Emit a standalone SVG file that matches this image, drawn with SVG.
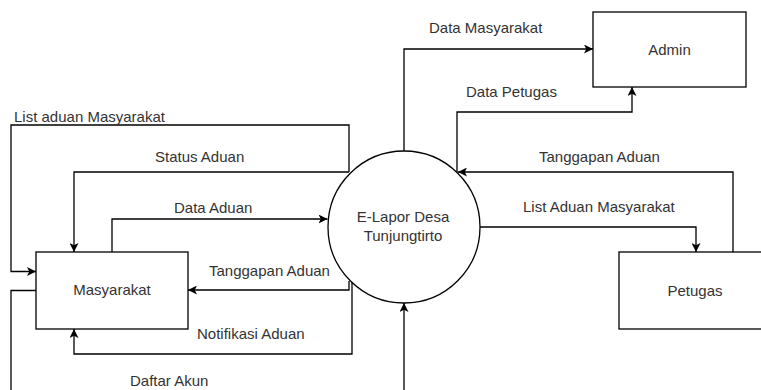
<svg xmlns="http://www.w3.org/2000/svg" width="761" height="390" viewBox="0 0 761 390">
<style>
.box{fill:#fff;stroke:#000;stroke-width:1.3}
.lbl{font-family:"Liberation Sans",Arial,sans-serif;font-size:15px;fill:#333}
.c{text-anchor:middle}
.ln{fill:none;stroke:#000;stroke-width:1.3;marker-end:url(#arr)}
</style>
<defs>
<marker id="arr" viewBox="0 0 10 10" refX="10" refY="5" markerWidth="9" markerHeight="9" markerUnits="userSpaceOnUse" orient="auto">
<path d="M0,0 L10,5 L0,10 L2.5,5 z" fill="#000"/>
</marker>
</defs>
<rect width="761" height="390" fill="#fff"/>
<g id="connectors">
<path class="ln" d="M349,172 V125 H11 V271.5 H36"/>
<path class="ln" d="M349,172 H74 V252"/>
<path class="ln" d="M112,252 V219 H327.5"/>
<path class="ln" d="M349,281 V290 H188"/>
<path class="ln" d="M352,282 V354 H74 V329"/>
<path class="ln" d="M36,290.5 H11 V400 H404 V303"/>
<path class="ln" d="M404,151 V49 H593"/>
<path class="ln" d="M457,172 V112 H632 V87"/>
<path class="ln" d="M733,252 V172 H458"/>
<path class="ln" d="M480,227 H696 V252"/>
</g>
<g id="labels">
<text class="lbl" x="14" y="122">List aduan Masyarakat</text>
<text class="lbl" x="155" y="162">Status Aduan</text>
<text class="lbl" x="174" y="213">Data Aduan</text>
<text class="lbl" x="209" y="276">Tanggapan Aduan</text>
<text class="lbl" x="197" y="339">Notifikasi Aduan</text>
<text class="lbl" x="130" y="386">Daftar Akun</text>
<text class="lbl" x="429" y="33">Data Masyarakat</text>
<text class="lbl" x="466" y="97">Data Petugas</text>
<text class="lbl" x="539" y="162">Tanggapan Aduan</text>
<text class="lbl" x="523" y="212">List Aduan Masyarakat</text>
</g>
<g id="masyarakat">
<rect class="box" x="36" y="252" width="152" height="77"/>
<text class="lbl c" x="112" y="295">Masyarakat</text>
</g>
<g id="elapor">
<circle class="box" cx="404" cy="227" r="76"/>
<text class="lbl c" x="403" y="222">E-Lapor Desa</text>
<text class="lbl c" x="403" y="241">Tunjungtirto</text>
</g>
<g id="admin">
<rect class="box" x="593" y="12" width="153" height="75"/>
<text class="lbl c" x="669.5" y="54.5">Admin</text>
</g>
<g id="petugas">
<rect class="box" x="619" y="252" width="152" height="77"/>
<text class="lbl c" x="695" y="295.5">Petugas</text>
</g>
</svg>
